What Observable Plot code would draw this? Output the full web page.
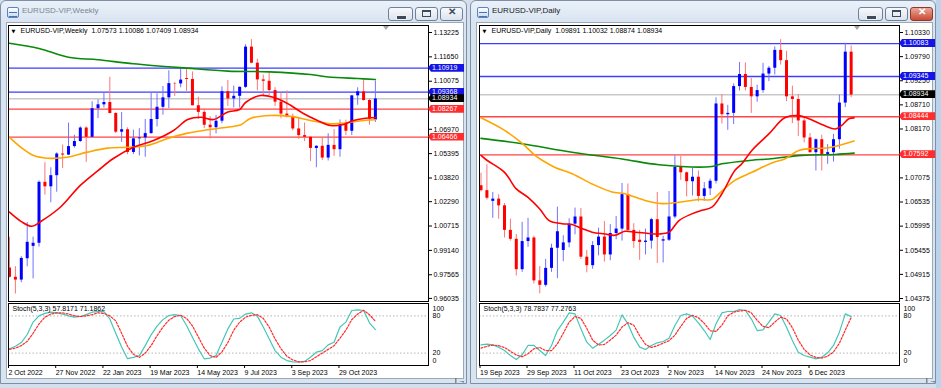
<!DOCTYPE html>
<html><head><meta charset="utf-8">
<script src="https://cdn.jsdelivr.net/npm/d3@7"></script>
<script src="https://cdn.jsdelivr.net/npm/@observablehq/plot@0.6"></script>
<style>
html,body{margin:0;padding:0}
body{width:941px;height:388px;overflow:hidden;position:relative;background:#d3dfed;font-family:"Liberation Sans",Arial,sans-serif}
.abs{position:absolute}
.win{position:absolute;top:0;height:384px;box-sizing:border-box;border:1px solid #7f90a6;border-radius:6px 6px 0 0;background:linear-gradient(#eaf1f9,#d9e4f1 22px,#d9e4f1)}
.client{position:absolute;background:#fff;box-sizing:border-box;border:1px solid #9aa8ba}
.ttl{position:absolute;top:6px;font-size:8px;white-space:nowrap}
.btn{position:absolute;top:7px;height:14px;box-sizing:border-box;border:1px solid #6f8198;border-radius:3px;background:linear-gradient(#f8fafc,#dbe3ed)}
.box{position:absolute;height:8px;line-height:8px;font-size:7px;color:#fff;padding-left:4px;box-sizing:border-box;white-space:nowrap;clip-path:polygon(0 50%,3px 0,100% 0,100% 100%,3px 100%)}
.plot{position:absolute}
</style></head>
<body>
<script>
// ---------------- WEEKLY DATA (bar index 0 = 2 Oct 2022) ----------------
const weeklyOpen  = [0.9800,0.9740,0.9722,0.9860,0.9940,0.9960,1.0354,1.0325,1.0397,1.0537,1.0530,1.0585,1.0618,1.0705,1.0645,1.0830,1.0855,1.0870,1.0799,1.0678,1.0694,1.0547,1.0635,1.0641,1.0669,1.0760,1.0839,1.0900,1.0992,1.0990,1.1025,1.1019,1.0849,1.0806,1.0723,1.0707,1.0749,1.0940,1.0893,1.0910,1.0968,1.1228,1.1124,1.1016,1.1007,1.0947,1.0872,1.0795,1.0774,1.0699,1.0656,1.0645,1.0573,1.0587,1.0511,1.0593,1.0565,1.0730,1.0684,1.0913,1.0939,1.0883,1.0757];
const weeklyHigh  = [0.9999,0.9809,0.9873,1.0094,1.0000,1.0363,1.0481,1.0448,1.0545,1.0595,1.0737,1.0658,1.0713,1.0713,1.0875,1.0887,1.0929,1.1033,1.0804,1.0805,1.0706,1.0691,1.0701,1.0760,1.0930,1.0926,1.0973,1.1075,1.0999,1.1095,1.1092,1.1068,1.0904,1.0829,1.0779,1.0787,1.0971,1.1012,1.0976,1.0971,1.1244,1.1276,1.1150,1.1047,1.1064,1.0966,1.0930,1.0945,1.0795,1.0768,1.0737,1.0647,1.0590,1.0640,1.0668,1.0695,1.0757,1.0756,1.0914,1.0965,1.1017,1.0894,1.1009];
const weeklyLow   = [0.9736,0.9632,0.9705,0.9808,0.9730,0.9935,1.0271,1.0222,1.0290,1.0443,1.0527,1.0575,1.0612,1.0483,1.0644,1.0766,1.0835,1.0796,1.0669,1.0613,1.0533,1.0533,1.0524,1.0516,1.0665,1.0712,1.0788,1.0831,1.0909,1.0965,1.0942,1.0848,1.0760,1.0702,1.0635,1.0667,1.0733,1.0845,1.0835,1.0834,1.0961,1.1121,1.0946,1.0912,1.0913,1.0845,1.0765,1.0770,1.0686,1.0632,1.0617,1.0488,1.0448,1.0495,1.0492,1.0522,1.0516,1.0656,1.0656,1.0852,1.0878,1.0723,1.0741];
const weeklyClose = [0.9740,0.9722,0.9862,0.9966,0.9960,1.0354,1.0325,1.0397,1.0537,1.0530,1.0585,1.0618,1.0705,1.0645,1.0830,1.0855,1.0870,1.0799,1.0678,1.0694,1.0547,1.0635,1.0641,1.0669,1.0760,1.0839,1.0900,1.0992,1.0990,1.1015,1.1019,1.0849,1.0806,1.0723,1.0707,1.0749,1.0940,1.0893,1.0910,1.0968,1.1228,1.1124,1.1016,1.1007,1.0947,1.0872,1.0795,1.0774,1.0699,1.0656,1.0645,1.0573,1.0587,1.0511,1.0593,1.0565,1.0730,1.0684,1.0913,1.0939,1.0883,1.0763,1.0893];
// moving averages: [bar index, price]
const weeklyMaGreen  = [[0,1.1253],[5,1.1219],[10,1.1162],[15,1.1146],[21,1.1120],[30,1.1092],[37,1.1073],[44,1.1068],[51,1.1051],[54,1.1035],[59,1.1025],[62,1.1019]];
const weeklyMaRed    = [[0,1.0161],[2,1.0100],[3.8,1.0070],[5.3,1.0101],[8.6,1.0193],[12,1.0334],[15,1.0430],[17.6,1.0508],[21,1.0581],[24.4,1.0624],[27.8,1.0689],[30.2,1.0760],[32.4,1.0775],[34.6,1.0760],[36.9,1.0807],[39,1.0825],[40,1.0870],[42.5,1.0915],[44.7,1.0904],[47.1,1.0864],[49.8,1.0799],[52.2,1.0754],[54.4,1.0721],[56.6,1.0728],[58.3,1.0754],[60,1.0767],[62,1.0773]];
const weeklyMaOrange = [[0,1.0644],[1.9,1.0581],[4.1,1.0527],[6.4,1.0510],[9.8,1.0516],[13.2,1.0549],[16.6,1.0575],[20,1.0581],[23.4,1.0592],[26.8,1.0637],[30.2,1.0672],[33.6,1.0694],[36.9,1.0710],[39.2,1.0726],[40.8,1.0767],[44.2,1.0786],[47.6,1.0780],[51,1.0754],[54.4,1.0732],[56.6,1.0736],[60,1.0754],[62,1.0758]];
const weeklyLevels = [1.10919,1.09368,1.08934,1.08267,1.06466];
const weeklyLevelKinds = ["blue","blue","price","red","red"];
const weeklyPriceTicks = [1.13225,1.11650,1.10075,1.06970,1.05395,1.03820,1.02290,1.00715,0.99140,0.97565,0.96035];
const weeklyStochK = [27,31,37,50,70,80,84,86,85,83,80,78,79,82,86,87,87,75,52,30,11,13,16,32,49.5,63.5,74,80.6,82,80.6,64.5,45.7,26.9,10.8,12,16,37.6,59,75,76,83,85,79.6,62,43,24,13.4,8,5.9,5.4,6.5,13.4,21.5,24,33.3,37.6,62,70,88.7,89.8,88.7,68.8,57.8];
const weeklyStochD = [26,28,32,39,52,67,78,83,85,85,83,80,79,80,82,85,84,80,72,52,31,18,13,20,32,48,62,73,79,81,76,64,46,28,16,13,22,37,57,70,78,81,82,76,62,43,27,15,9,6,6,8,14,20,26,32,44,57,74,83,89,82,71.2];
const weeklyDateIdx = [0,8,16,24,32,40,48,56];
const weeklyDateLabels = ["2 Oct 2022","27 Nov 2022","22 Jan 2023","19 Mar 2023","14 May 2023","9 Jul 2023","3 Sep 2023","29 Oct 2023"];

// ---------------- DAILY DATA (bar index 0 = 19 Sep 2023) ----------------
const dailyOpen  = [1.0690,1.0679,1.0655,1.0660,1.0645,1.0590,1.0570,1.0502,1.0565,1.0573,1.0477,1.0467,1.0505,1.0550,1.0545,1.0562,1.0604,1.0620,1.0530,1.0511,1.0556,1.0575,1.0535,1.0583,1.0593,1.0670,1.0590,1.0568,1.0563,1.0566,1.0614,1.0566,1.0568,1.0620,1.0731,1.0719,1.0699,1.0709,1.0666,1.0683,1.0700,1.0873,1.0849,1.0852,1.0912,1.0939,1.0910,1.0889,1.0903,1.0940,1.0953,1.0993,1.0970,1.0889,1.0883,1.0835,1.0797,1.0764,1.0793,1.0760,1.0764,1.0793,1.0875,1.0989];
const dailyHigh  = [1.0718,1.0737,1.0675,1.0670,1.0650,1.0615,1.0581,1.0608,1.0617,1.0577,1.0509,1.0525,1.0559,1.0642,1.0578,1.0616,1.0640,1.0639,1.0545,1.0565,1.0595,1.0610,1.0603,1.0621,1.0695,1.0694,1.0605,1.0590,1.0593,1.0617,1.0675,1.0577,1.0677,1.0757,1.0756,1.0721,1.0729,1.0723,1.0697,1.0705,1.0887,1.0894,1.0870,1.0918,1.0966,1.0965,1.0930,1.0915,1.0964,1.0957,1.1001,1.1017,1.0991,1.0913,1.0894,1.0845,1.0807,1.0795,1.0803,1.0782,1.0805,1.0893,1.1009,1.1003];
const dailyLow   = [1.0676,1.0658,1.0617,1.0615,1.0573,1.0566,1.0488,1.0496,1.0552,1.0470,1.0448,1.0463,1.0496,1.0482,1.0520,1.0551,1.0580,1.0525,1.0495,1.0503,1.0533,1.0519,1.0522,1.0569,1.0566,1.0588,1.0550,1.0523,1.0535,1.0548,1.0516,1.0517,1.0565,1.0616,1.0702,1.0665,1.0667,1.0654,1.0655,1.0668,1.0694,1.0828,1.0814,1.0827,1.0902,1.0902,1.0852,1.0877,1.0897,1.0923,1.0938,1.0960,1.0878,1.0829,1.0800,1.0786,1.0763,1.0723,1.0723,1.0738,1.0743,1.0772,1.0865,1.0887];
const dailyClose = [1.0679,1.0662,1.0660,1.0645,1.0590,1.0570,1.0502,1.0565,1.0573,1.0477,1.0467,1.0505,1.0550,1.0587,1.0562,1.0604,1.0620,1.0530,1.0511,1.0556,1.0575,1.0535,1.0583,1.0593,1.0670,1.0590,1.0565,1.0563,1.0566,1.0614,1.0574,1.0569,1.0620,1.0731,1.0719,1.0699,1.0709,1.0666,1.0683,1.0700,1.0873,1.0849,1.0852,1.0912,1.0939,1.0910,1.0889,1.0903,1.0940,1.0953,1.0993,1.0970,1.0889,1.0883,1.0835,1.0797,1.0764,1.0793,1.0760,1.0764,1.0793,1.0875,1.0989,1.0893];
const dailyMaRed    = [[0,1.0758],[1,1.0747],[4,1.0720],[6,1.0683],[8,1.0664],[10,1.0638],[11.6,1.0612],[13.8,1.0605],[15.5,1.0603],[17.2,1.0594],[18.9,1.0586],[21.1,1.0582],[22.8,1.0579],[24.5,1.0588],[26.2,1.0586],[27.9,1.0584],[30.3,1.0582],[32,1.0586],[33.7,1.0612],[35.9,1.0627],[37.6,1.0635],[39.3,1.0642],[41,1.0672],[43.2,1.0724],[44.4,1.0739],[46.1,1.0769],[49,1.0806],[51.7,1.0842],[54.1,1.0847],[55.8,1.0840],[58,1.0827],[60.3,1.0817],[61.4,1.0825],[62.6,1.0840],[63.5,1.0842]];
const dailyMaOrange = [[0,1.0842],[4,1.0814],[7,1.0785],[9.2,1.0758],[10.4,1.0747],[12.6,1.0731],[15.5,1.0717],[18.9,1.0694],[22.3,1.0676],[24.5,1.0672],[27.9,1.0657],[30.8,1.0650],[33.7,1.0653],[37.1,1.0659],[39.3,1.0659],[40.5,1.0672],[43.2,1.0702],[46.1,1.0720],[49.5,1.0741],[51.7,1.0750],[54.1,1.0769],[56.3,1.0773],[59.2,1.0775],[60.9,1.0780],[63.5,1.0790]];
const dailyMaGreen  = [[0,1.0796],[7,1.0784],[15.5,1.0765],[24,1.0750],[30.3,1.0737],[39.3,1.0733],[41,1.0739],[46.1,1.0747],[49,1.0750],[54.6,1.0758],[60.3,1.0760],[63.5,1.0763]];
const dailyLevels = [1.10083,1.09345,1.08934,1.08444,1.07592];
const dailyLevelKinds = ["blue","blue","price","red","red"];
const dailyPriceTicks = [1.10330,1.09790,1.09250,1.08710,1.08170,1.07075,1.06535,1.05995,1.05455,1.04915,1.04375];
const dailyStochK = [33.3,34.4,33.3,29.6,24.2,16.1,9.7,17.2,32.3,32.3,24.2,16.1,32.3,56.4,69.9,84.9,83.3,59.1,37.6,27.9,34.4,40.9,48.4,57,81.7,67.2,45.7,29.6,25.8,32.3,36.6,38.7,44.1,64.5,80.6,83.3,79.6,68.8,56.4,41.9,67.2,84.9,87.1,87.1,90.3,88.7,75.3,56.4,57.5,69.9,83.3,80.6,61.8,40.3,21.5,16.1,13.4,10.8,13.4,20.4,32.3,53.8,83.3,78.8];
const dailyStochD = [28,31,33,32,29,23,17,14,19,27,29,24,24,35,52,70,79,76,60,41,33,34,41,49,62,69,65,48,34,29,32,36,40,49,63,76,81,77,68,56,55,65,80,86,88,89,85,73,63,61,70,78,75,61,41,26,17,13,12,15,22,36,57,77.3];
const dailyDateIdx = [0,8,16,24,32,40,48,56];
const dailyDateLabels = ["19 Sep 2023","29 Sep 2023","11 Oct 2023","23 Oct 2023","2 Nov 2023","14 Nov 2023","24 Nov 2023","6 Dec 2023"];

// ---------------- helpers ----------------
const FONT = '"Liberation Sans", Arial, sans-serif';
function el(tag, cls, style, html) {
  const e = document.createElement(tag);
  if (cls) e.className = cls;
  if (style) e.style.cssText = style;
  if (html != null) e.innerHTML = html;
  document.body.appendChild(e);
  return e;
}
const levelStyle = {
  blue: {stroke: "#3d3dff", strokeWidth: 1.3, box: "#1414e6", text: "#fff"},
  red: {stroke: "#ff4545", strokeWidth: 1.3, box: "#ff2d2d", text: "#fff"},
  price: {stroke: "#c9c9c9", strokeWidth: 1.5, box: "#000", text: "#fff"}
};

function chrome(left, width, title, active) {
  el("div", "win", `left:${left}px;width:${width}px`);
  el("div", "client", `left:${left + 6}px;top:22px;width:${width - 9}px;height:357px`);
  el("div", "abs", `left:${left + 7}px;top:7px;width:12px;height:11px;box-sizing:border-box;border:1px solid #5d84bb;border-radius:2px;background:linear-gradient(#ffffff,#c6daf3)`);
  el("div", "abs", `left:${left + 9}px;top:12px;width:8px;height:3px;border-top:1px solid #4a73b0;border-bottom:1px solid #4a73b0`);
  el("div", "ttl", `left:${left + 22}px;color:${active ? "#1a1a1a" : "#7b8695"}`, title);
  el("div", "btn", `left:${left + 388}px;width:25px`);
  el("div", "abs", `left:${left + 396}px;top:15px;width:9px;height:3px;background:#3c4a5c;border:1px solid #f0f0f0;box-sizing:content-box`);
  el("div", "btn", `left:${left + 415}px;width:23px`);
  el("div", "abs", `left:${left + 422}px;top:10px;width:9px;height:7px;box-sizing:border-box;border:1px solid #3c4a5c;border-top-width:2px`);
  el("div", "btn", `left:${left + 440}px;width:23px;` + (active ? "background:linear-gradient(#eba797,#c94a35);border-color:#8e3a2b" : ""));
  el("div", "abs", `left:${left + 446}px;top:6px;width:12px;font:bold 10px ${FONT};text-align:center;color:${active ? "#fff" : "#3c4a5c"}`, "✕");
}

function mainPlot(c) {
  const candles = c.open.map((o, i) => ({i, o, h: c.high[i], l: c.low[i], c: c.close[i]}));
  const up = candles.filter(d => d.c >= d.o), dn = candles.filter(d => d.c < d.o);
  const levels = c.levels.map((v, k) => ({v, kind: c.kinds[k]}));
  const lv = kind => Plot.ruleY(levels.filter(d => d.kind === kind), {y: "v", stroke: levelStyle[kind].stroke, strokeWidth: levelStyle[kind].strokeWidth});
  const ma = (arr, color) => Plot.line(arr, {x: d => d[0], y: d => d[1], stroke: color, strokeWidth: 1.6, curve: "catmull-rom"});
  const plot = Plot.plot({
    width: 461, height: 278, marginTop: 1, marginLeft: 1, marginBottom: 1, marginRight: 40,
    x: {domain: c.xDomain, axis: null},
    y: {domain: c.yDomain},
    style: {fontFamily: FONT, fontSize: "7px", color: "#000", background: "transparent", overflow: "visible"},
    marks: [
      lv("price"), lv("blue"), lv("red"),
      Plot.ruleX(up, {x: "i", y1: "l", y2: "h", stroke: "#7272ff", strokeWidth: 1}),
      Plot.ruleX(dn, {x: "i", y1: "l", y2: "h", stroke: "#ff7474", strokeWidth: 1}),
      Plot.ruleX(up, {x: "i", y1: "o", y2: "c", stroke: "#0000ff", strokeWidth: 3}),
      Plot.ruleX(dn, {x: "i", y1: "o", y2: "c", stroke: "#ff0000", strokeWidth: 3}),
      ma(c.maGreen, "#098a09"), ma(c.maOrange, "#ffa500"), ma(c.maRed, "#ff0000"),
      Plot.frame({stroke: "#000"}),
      Plot.axisY({anchor: "right", ticks: c.priceTicks, tickFormat: d => d.toFixed(5), tickSize: 3, tickPadding: 2}),
      Plot.text(["▼"], {frameAnchor: "top-left", dx: 3, dy: 4, fontSize: 5, fontFamily: "DejaVu Sans"}),
      Plot.text([c.header], {frameAnchor: "top-left", dx: 12, dy: 3})
    ]
  });
  plot.classList.add("plot");
  plot.style.left = c.left + "px";
  plot.style.top = c.top + "px";
  document.body.appendChild(plot);
  const y = plot.scale("y");
  levels.forEach(d => {
    const s = levelStyle[d.kind];
    el("div", "box", `left:${c.left + 421}px;top:${c.top + y.apply(d.v) - 4}px;width:36px;background:${s.box};color:${s.text}`, d.v.toFixed(5));
  });
  // chart shift marker
  el("div", "abs", `left:${c.left + 376}px;top:${c.top + 2}px;width:0;height:0;border-left:3px solid transparent;border-right:3px solid transparent;border-top:4px solid #a6a6a6`);
  return plot;
}

function stochPlot(c) {
  const K = c.k.map((v, i) => ({i, v})), D = c.d.map((v, i) => ({i, v}));
  const plot = Plot.plot({
    width: 461, height: 83, marginTop: 1, marginLeft: 1, marginBottom: 20, marginRight: 40,
    x: {domain: c.xDomain},
    y: {domain: [0, 100], axis: null},
    style: {fontFamily: FONT, fontSize: "7px", color: "#000", background: "transparent", overflow: "visible"},
    marks: [
      Plot.ruleY([20, 80], {stroke: "#b4b4b4", strokeDasharray: "1.5,2"}),
      Plot.line(K, {x: "i", y: "v", stroke: "#45c6b6", strokeWidth: 1.2}),
      Plot.line(D, {x: "i", y: "v", stroke: "#ff2b2b", strokeWidth: 1.2, strokeDasharray: "2,1.6"}),
      Plot.frame({stroke: "#000"}),
      Plot.text([c.header], {frameAnchor: "top-left", dx: 4, dy: 3}),
      Plot.axisX({anchor: "bottom", ticks: c.dateIdx, tickFormat: d => c.dateLabels[c.dateIdx.indexOf(d)], tickSize: 3, tickPadding: 2, textAnchor: "start", dx: -1}),
      Plot.text([80, 20], {y: d => d, text: d => String(d), frameAnchor: "right", textAnchor: "start", dx: 4}),
      Plot.text([100], {y: d => d, text: d => String(d), frameAnchor: "right", textAnchor: "start", dx: 4, dy: 5}),
      Plot.text([0], {y: d => d, text: d => String(d), frameAnchor: "right", textAnchor: "start", dx: 4, dy: -5})
    ]
  });
  plot.classList.add("plot");
  plot.style.left = c.left + "px";
  plot.style.top = c.top + "px";
  document.body.appendChild(plot);
  return plot;
}

// ---------------- build ----------------
el("div", "abs", "left:936px;top:0;width:5px;height:388px;background:#bcd3ec");
chrome(0, 467, "EURUSD-VIP,Weekly", false);
chrome(470, 466, "EURUSD-VIP,Daily", true);

mainPlot({
  left: 7, top: 24,
  open: weeklyOpen, high: weeklyHigh, low: weeklyLow, close: weeklyClose,
  maGreen: weeklyMaGreen, maOrange: weeklyMaOrange, maRed: weeklyMaRed,
  levels: weeklyLevels, kinds: weeklyLevelKinds, priceTicks: weeklyPriceTicks,
  xDomain: [-0.17, 71.0], yDomain: [0.95836, 1.13677],
  header: "EURUSD-VIP,Weekly  1.07573 1.10086 1.07409 1.08934"
});
stochPlot({
  left: 7, top: 302, k: weeklyStochK, d: weeklyStochD, xDomain: [-0.17, 71.0],
  dateIdx: weeklyDateIdx, dateLabels: weeklyDateLabels,
  header: "Stoch(5,3,3) 57.8171 71.1862"
});
mainPlot({
  left: 478, top: 24,
  open: dailyOpen, high: dailyHigh, low: dailyLow, close: dailyClose,
  maGreen: dailyMaGreen, maOrange: dailyMaOrange, maRed: dailyMaRed,
  levels: dailyLevels, kinds: dailyLevelKinds, priceTicks: dailyPriceTicks,
  xDomain: [-0.26, 71.23], yDomain: [1.04308, 1.10487],
  header: "EURUSD-VIP,Daily  1.09891 1.10032 1.08874 1.08934"
});
stochPlot({
  left: 478, top: 302, k: dailyStochK, d: dailyStochD, xDomain: [-0.26, 71.23],
  dateIdx: dailyDateIdx, dateLabels: dailyDateLabels,
  header: "Stoch(5,3,3) 78.7837 77.2763"
});
</script>
</body></html>
